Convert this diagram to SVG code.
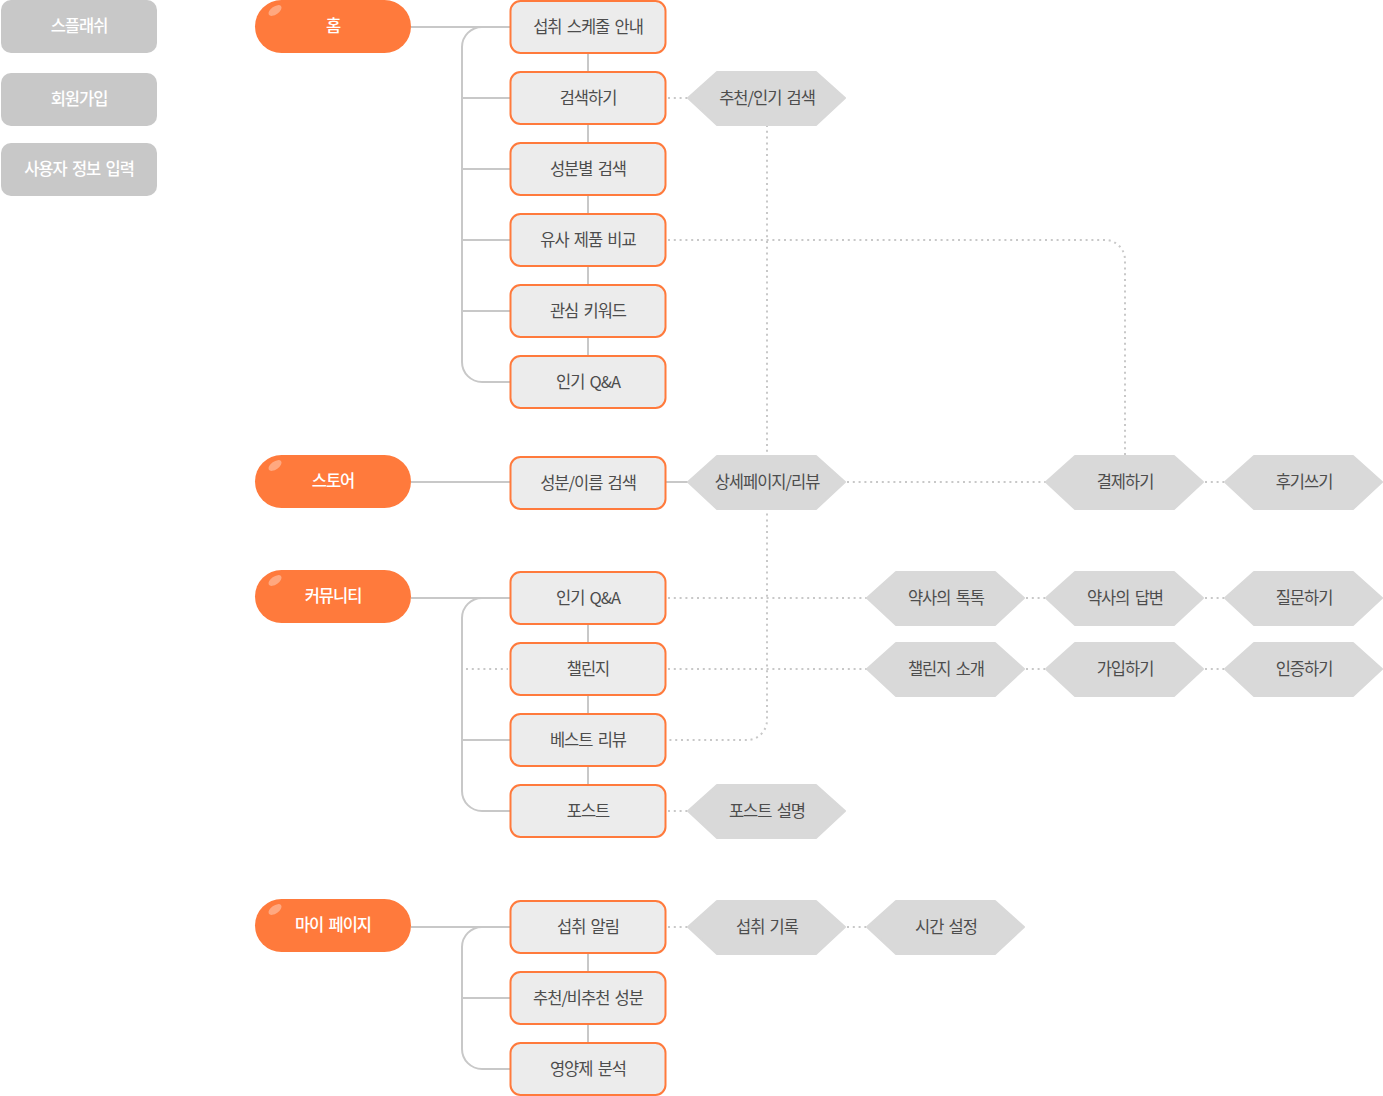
<svg xmlns="http://www.w3.org/2000/svg" width="1383" height="1096" viewBox="0 0 1383 1096">
<style>
.pre rect{fill:#c8c8c8}
.pre text{fill:#fff;font-weight:500}
.pill rect{fill:#ff7a3c}
.pill ellipse{fill:#fff;opacity:.35}
.pill text{fill:#fff;font-weight:500}
.box rect{fill:#ececec;stroke:#ff7a3c;stroke-width:2}
.hex polygon{fill:#d9d9d9;stroke:#d9d9d9;stroke-width:2;stroke-linejoin:round}
text{font-family:"Noto Sans CJK KR","Noto Sans",sans-serif;font-size:16.5px;text-anchor:middle;letter-spacing:-1px;word-spacing:2.5px}
.box text,.hex text{fill:#4d4d4d;font-weight:400}
.solid{fill:none;stroke:#c8c8c8;stroke-width:2}
.dot{fill:none;stroke:#c8c8c8;stroke-width:2;stroke-dasharray:2 3.8}
</style>
<g id="connectors">
<path class="solid" d="M411 27H510M482 27A20 20 0 0 0 462 47V362A20 20 0 0 0 482 382H510M462 98H510M462 169H510M462 240H510M462 311H510M588 27V382"/>
<path class="solid" d="M411 482H510M666 482H690"/>
<path class="solid" d="M411 598H510M482 598A20 20 0 0 0 462 618V791A20 20 0 0 0 482 811H510M462 740H510M588 598V811"/>
<path class="solid" d="M411 927H510M482 927A20 20 0 0 0 462 947V1049A20 20 0 0 0 482 1069H510M462 998H510M588 927V1069"/>
<path class="dot" d="M668 98H688"/>
<path class="dot" d="M767 125V720A20 20 0 0 1 747 740H668"/>
<path class="dot" d="M668 240H1105A20 20 0 0 1 1125 260V456"/>
<path class="dot" d="M847 482H1046M1205 482H1224"/>
<path class="dot" d="M668 598H867M1026 598H1045M1205 598H1224"/>
<path class="dot" d="M466 669H508M668 669H867M1026 669H1045M1205 669H1224"/>
<path class="dot" d="M668 811H688"/>
<path class="dot" d="M668 927H688M847 927H866"/>
</g>
<g id="pre-splash" class="pre"><rect x="1" y="0" width="156" height="53" rx="10"/><text x="79" y="32">스플래쉬</text></g>
<g id="pre-signup" class="pre"><rect x="1" y="73" width="156" height="53" rx="10"/><text x="79" y="105">회원가입</text></g>
<g id="pre-userinfo" class="pre"><rect x="1" y="143" width="156" height="53" rx="10"/><text x="79" y="175">사용자 정보 입력</text></g>

<g id="pill-home" class="pill"><rect x="255" y="0" width="156" height="53" rx="26.5"/><ellipse cx="275" cy="10.5" rx="7.5" ry="4" transform="rotate(-35 275 10.5)"/><text x="333" y="32">홈</text></g>
<g id="pill-store" class="pill"><rect x="255" y="455" width="156" height="53" rx="26.5"/><ellipse cx="275" cy="465.5" rx="7.5" ry="4" transform="rotate(-35 275 465.5)"/><text x="333" y="487">스토어</text></g>
<g id="pill-community" class="pill"><rect x="255" y="570" width="156" height="53" rx="26.5"/><ellipse cx="275" cy="580.5" rx="7.5" ry="4" transform="rotate(-35 275 580.5)"/><text x="333" y="602">커뮤니티</text></g>
<g id="pill-mypage" class="pill"><rect x="255" y="899" width="156" height="53" rx="26.5"/><ellipse cx="275" cy="909.5" rx="7.5" ry="4" transform="rotate(-35 275 909.5)"/><text x="333" y="931">마이 페이지</text></g>

<g id="box-schedule" class="box"><rect x="510.5" y="1" width="155" height="52" rx="10"/><text x="588" y="33">섭취 스케줄 안내</text></g>
<g id="box-search" class="box"><rect x="510.5" y="72" width="155" height="52" rx="10"/><text x="588" y="104">검색하기</text></g>
<g id="box-ingredient" class="box"><rect x="510.5" y="143" width="155" height="52" rx="10"/><text x="588" y="175">성분별 검색</text></g>
<g id="box-compare" class="box"><rect x="510.5" y="214" width="155" height="52" rx="10"/><text x="588" y="246">유사 제품 비교</text></g>
<g id="box-keyword" class="box"><rect x="510.5" y="285" width="155" height="52" rx="10"/><text x="588" y="317">관심 키워드</text></g>
<g id="box-qna-home" class="box"><rect x="510.5" y="356" width="155" height="52" rx="10"/><text x="588" y="388">인기 Q&amp;A</text></g>

<g id="box-store-search" class="box"><rect x="510.5" y="457" width="155" height="52" rx="10"/><text x="588" y="489">성분/이름 검색</text></g>

<g id="box-qna" class="box"><rect x="510.5" y="572" width="155" height="52" rx="10"/><text x="588" y="604">인기 Q&amp;A</text></g>
<g id="box-challenge" class="box"><rect x="510.5" y="643" width="155" height="52" rx="10"/><text x="588" y="675">챌린지</text></g>
<g id="box-bestreview" class="box"><rect x="510.5" y="714" width="155" height="52" rx="10"/><text x="588" y="746">베스트 리뷰</text></g>
<g id="box-post" class="box"><rect x="510.5" y="785" width="155" height="52" rx="10"/><text x="588" y="817">포스트</text></g>

<g id="box-alarm" class="box"><rect x="510.5" y="901" width="155" height="52" rx="10"/><text x="588" y="933">섭취 알림</text></g>
<g id="box-recommend" class="box"><rect x="510.5" y="972" width="155" height="52" rx="10"/><text x="588" y="1004">추천/비추천 성분</text></g>
<g id="box-analysis" class="box"><rect x="510.5" y="1043" width="155" height="52" rx="10"/><text x="588" y="1075">영양제 분석</text></g>

<g id="hex-popular-search" class="hex"><polygon points="688,98 717,72 816,72 845,98 816,125 717,125"/><text x="767" y="104">추천/인기 검색</text></g>
<g id="hex-detail" class="hex"><polygon points="688,482 717,456 816,456 845,482 816,509 717,509"/><text x="767" y="488">상세페이지/리뷰</text></g>
<g id="hex-pay" class="hex"><polygon points="1046,482 1075,456 1174,456 1203,482 1174,509 1075,509"/><text x="1125" y="488">결제하기</text></g>
<g id="hex-review-write" class="hex"><polygon points="1225,482 1254,456 1353,456 1382,482 1353,509 1254,509"/><text x="1304" y="488">후기쓰기</text></g>

<g id="hex-pharm-talk" class="hex"><polygon points="867,598 896,572 995,572 1024,598 995,625 896,625"/><text x="946" y="604">약사의 톡톡</text></g>
<g id="hex-pharm-answer" class="hex"><polygon points="1046,598 1075,572 1174,572 1203,598 1174,625 1075,625"/><text x="1125" y="604">약사의 답변</text></g>
<g id="hex-ask" class="hex"><polygon points="1225,598 1254,572 1353,572 1382,598 1353,625 1254,625"/><text x="1304" y="604">질문하기</text></g>

<g id="hex-challenge-intro" class="hex"><polygon points="867,669 896,643 995,643 1024,669 995,696 896,696"/><text x="946" y="675">챌린지 소개</text></g>
<g id="hex-join" class="hex"><polygon points="1046,669 1075,643 1174,643 1203,669 1174,696 1075,696"/><text x="1125" y="675">가입하기</text></g>
<g id="hex-verify" class="hex"><polygon points="1225,669 1254,643 1353,643 1382,669 1353,696 1254,696"/><text x="1304" y="675">인증하기</text></g>

<g id="hex-post-desc" class="hex"><polygon points="688,811 717,785 816,785 845,811 816,838 717,838"/><text x="767" y="817">포스트 설명</text></g>

<g id="hex-intake-log" class="hex"><polygon points="688,927 717,901 816,901 845,927 816,954 717,954"/><text x="767" y="933">섭취 기록</text></g>
<g id="hex-time" class="hex"><polygon points="867,927 896,901 995,901 1024,927 995,954 896,954"/><text x="946" y="933">시간 설정</text></g>
</svg>
